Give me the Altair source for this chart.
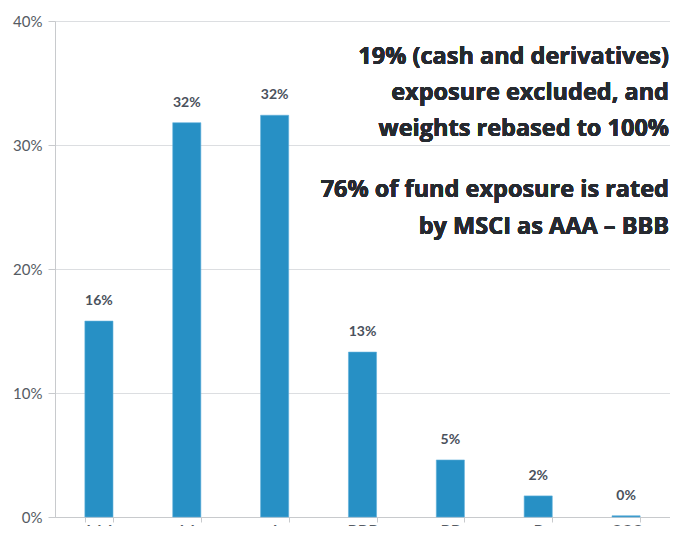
import altair as alt
import pandas as pd

ratings = ["AAA", "AA", "A", "BBB", "BB", "B", "CCC"]
values = [15.8, 31.8, 32.4, 13.3, 4.6, 1.7, 0.1]
labels = ["16%", "32%", "32%", "13%", "5%", "2%", "0%"]
y_ticks = [0, 10, 20, 30, 40]
note1 = ["19% (cash and derivatives)", "exposure excluded, and", "weights rebased to 100%"]
note2 = ["76% of fund exposure is rated", "by MSCI as AAA \u2013 BBB"]

df = pd.DataFrame({"rating": ratings, "value": values, "label": labels})

FONT = "Lato"
NOTE_FONT = "Open Sans"
x = alt.X("rating:N", sort=ratings, title=None,
          scale=alt.Scale(paddingInner=0.68, paddingOuter=0.34),
          axis=alt.Axis(labelAngle=0, labelFontSize=16, labelColor="#555b63",
                        labelFont=FONT, domainColor="#c8cacd", tickColor="#c8cacd",
                        tickBand="extent", tickSize=5, labelPadding=0, grid=False))
y = alt.Y("value:Q", title=None,
          scale=alt.Scale(domain=[0, 40], nice=False),
          axis=alt.Axis(values=y_ticks, labelExpr="datum.value + '%'", labelFontSize=15,
                        labelColor="#555b63", labelFont=FONT, domainColor="#c8cacd",
                        tickColor="#c8cacd", tickSize=7, gridColor="#dcdee1",
                        labelPadding=6))

bars = alt.Chart(df).mark_bar(color="#2790c5", stroke="#5fb0dc", strokeWidth=0.6).encode(x=x, y=y)
text = alt.Chart(df).mark_text(dy=-16, fontSize=14, fontWeight="bold", color="#4a515c",
                               font=FONT, baseline="alphabetic").encode(x=x, y=y, text="label:N")

n1 = alt.Chart(df).mark_text(align="right", baseline="alphabetic", fontSize=23.5,
                             fontWeight="bold", color="#262a30", font=NOTE_FONT,
                             lineHeight=36).encode(
    x=alt.value(614), y=alt.value(43), text=alt.value(note1))
n2 = alt.Chart(df).mark_text(align="right", baseline="alphabetic", fontSize=23.5,
                             fontWeight="bold", color="#262a30", font=NOTE_FONT,
                             lineHeight=37).encode(
    x=alt.value(614), y=alt.value(176), text=alt.value(note2))

chart = alt.layer(bars, text, n1, n2).properties(
    width=615, height=496,
    autosize=alt.AutoSizeParams(type="none"),
    padding={"left": 47, "top": 13, "right": 0, "bottom": 9},
).configure_view(stroke=None).configure(background="white")

chart.save("out.html", embed_options={"renderer": "svg", "actions": False})
